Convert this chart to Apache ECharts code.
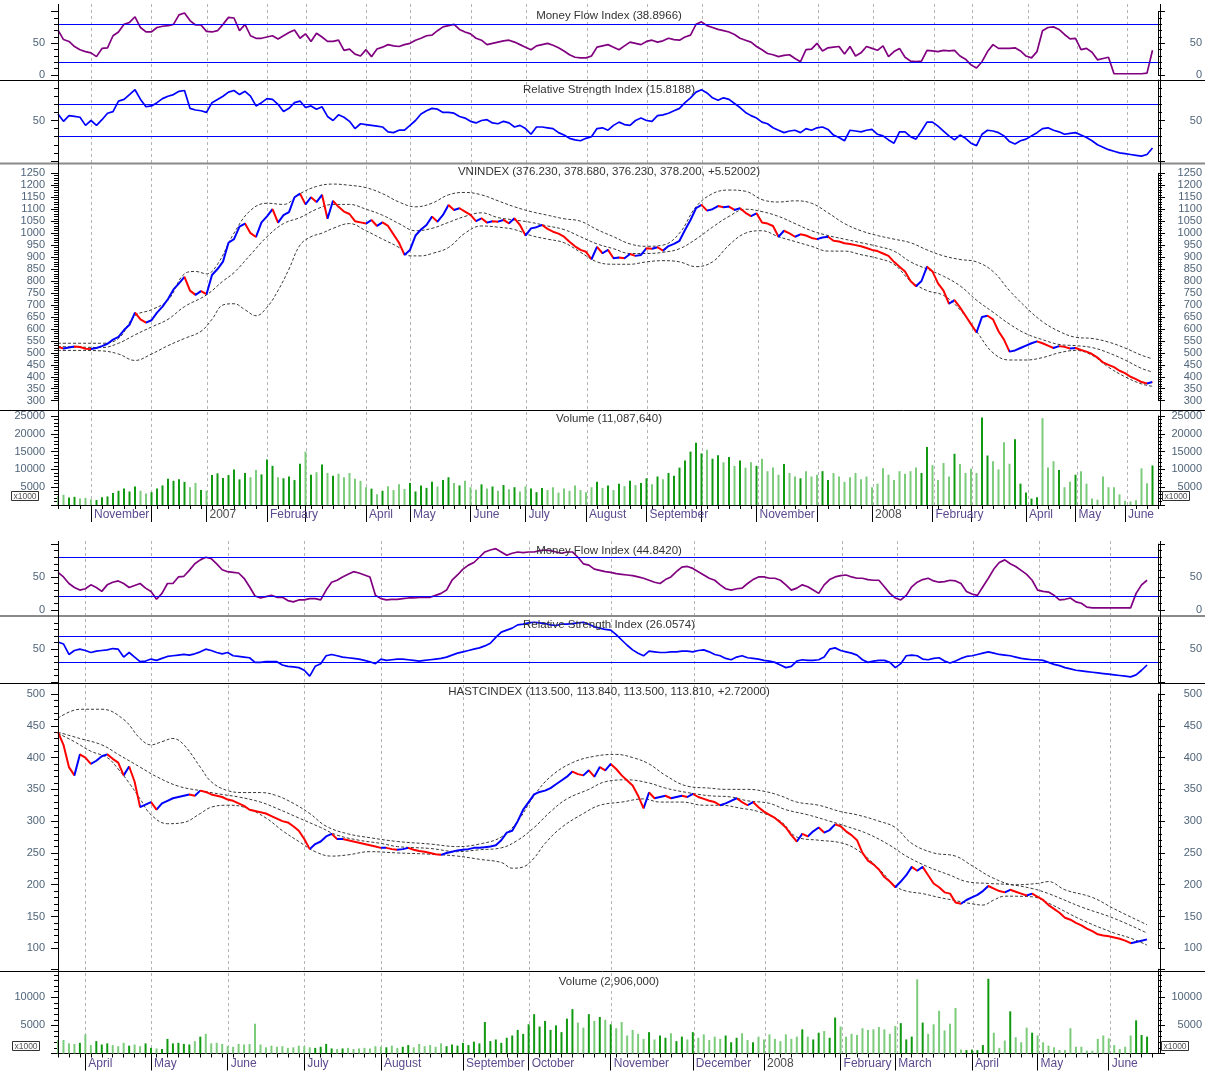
<!DOCTYPE html>
<html><head><meta charset="utf-8">
<script src="https://cdn.jsdelivr.net/npm/echarts@6/dist/echarts.min.js"></script>
<style>html,body{margin:0;padding:0;background:#fff}#c{width:1205px;height:1073px}</style>
</head><body><div id="c"></div>
<script>
// ---------------- TOP CHART (VNINDEX) ----------------
const topPrice = [525,518,522,526,524,517,516,520,528,538,
555,567,595,617,668,640,626,636,668,693,
725,765,790,817,760,742,758,745,825,850,
881,960,975,1027,1040,1000,984,1045,1070,1100,
1044,1075,1088,1150,1165,1120,1150,1130,1160,1060,
1135,1110,1090,1080,1050,1045,1040,1055,1030,1045,
1030,995,960,909,930,990,1015,1034,1069,1048,
1076,1118,1097,1104,1090,1076,1050,1062,1044,1050,
1048,1055,1041,1062,1034,990,1020,1025,1034,1018,
1006,998,985,964,945,930,922,891,943,916,
930,895,898,895,913,905,909,937,935,941,
927,946,955,968,1013,1055,1104,1118,1094,1100,
1113,1108,1111,1097,1104,1085,1071,1083,1044,1040,
1030,985,1010,999,985,995,990,980,975,982,
985,968,965,958,955,950,945,938,930,925,
915,905,880,860,840,800,778,800,860,840,
790,760,705,720,690,655,620,585,650,655,
640,590,555,505,510,520,530,540,548,540,
530,520,528,525,518,520,512,505,495,480,
460,450,440,425,415,400,390,378,372,378];
const topUpper = [[0,540],[4,540],[8,540],[11,560],[14,655],[17,680],[20,720],[23,830],[25,840],[27,830],[29,870],[32,1000],[35,1095],[38,1125],[41,1120],[44,1165],[47,1195],[50,1205],[53,1200],[56,1190],[59,1165],[62,1130],[65,1110],[68,1125],[71,1160],[74,1170],[77,1160],[80,1135],[83,1110],[86,1090],[89,1075],[92,1060],[95,1050],[98,1015],[101,985],[104,955],[107,945],[110,950],[113,1000],[116,1110],[119,1165],[122,1180],[125,1175],[128,1140],[131,1130],[134,1135],[137,1125],[140,1085],[143,1040],[146,1010],[149,990],[152,975],[155,960],[158,930],[161,905],[164,890],[167,880],[170,840],[173,760],[176,690],[179,630],[182,590],[185,565],[188,560],[191,545],[194,520],[197,490],[199,475]];
const topMiddle = [[0,526],[4,524],[8,522],[11,540],[14,575],[17,608],[20,640],[23,693],[27,742],[30,800],[32,835],[35,910],[38,985],[41,1040],[44,1065],[47,1100],[50,1120],[53,1120],[56,1100],[59,1075],[62,1040],[65,1010],[68,1020],[71,1045],[74,1070],[77,1085],[80,1065],[83,1055],[86,1045],[89,1030],[92,1015],[95,985],[98,955],[101,935],[104,915],[107,915],[110,920],[113,935],[116,975],[119,1025],[122,1070],[125,1100],[128,1090],[131,1070],[134,1040],[137,1010],[140,990],[143,975],[146,960],[149,945],[152,925],[155,880],[158,850],[161,820],[164,780],[167,720],[170,670],[173,620],[176,580],[179,555],[182,535],[185,530],[188,522],[191,500],[194,470],[197,435],[199,420]];
const topLower = [[0,510],[4,510],[8,508],[11,495],[14,468],[17,495],[20,530],[23,560],[26,590],[28,640],[30,700],[32,705],[34,680],[36,655],[38,690],[40,760],[42,850],[44,950],[46,985],[48,1000],[50,1020],[53,1040],[56,1010],[59,975],[62,940],[64,905],[66,905],[68,915],[71,940],[74,1000],[77,1030],[80,1025],[83,1015],[86,990],[89,975],[92,960],[95,920],[98,880],[101,870],[104,870],[107,880],[110,885],[113,880],[116,860],[119,880],[122,950],[125,1000],[128,1010],[131,985],[134,965],[137,945],[140,925],[143,925],[146,910],[149,895],[152,870],[155,800],[158,760],[161,740],[164,680],[167,590],[170,500],[173,470],[176,470],[179,480],[182,500],[185,510],[188,490],[191,440],[194,400],[197,370],[199,360]];
const topMFI = [71,56,53,45,40,37,35,29,42,43,
62,68,80,83,92,75,68,68,75,77,
78,80,95,98,86,79,79,69,68,70,
80,91,90,70,80,62,58,58,60,62,
57,62,67,71,58,65,53,66,60,53,
53,55,39,41,33,30,40,29,41,44,
48,46,45,48,50,55,58,62,63,70,
76,78,80,72,68,65,58,55,48,50,
52,54,55,52,48,44,40,46,48,50,
47,43,38,32,28,27,27,30,44,46,
48,44,40,46,52,50,48,53,55,52,
54,58,56,55,60,63,80,84,78,75,
72,70,68,64,58,55,52,45,40,34,
32,29,31,32,26,21,40,41,50,38,
43,44,45,33,45,30,35,45,42,39,
46,29,37,42,28,22,21,22,39,38,
37,39,38,39,30,25,16,11,21,37,
48,42,42,42,43,38,30,27,37,70,
75,76,72,64,57,58,40,42,36,24,
26,28,2,2,2,2,2,2,3,39];
const topRSI = [58,49,56,55,54,44,50,44,51,59,
61,74,76,82,88,76,67,68,72,77,
80,82,86,87,65,63,62,60,72,76,
80,85,87,82,86,80,68,72,77,76,
70,61,65,72,74,66,68,64,67,55,
50,57,54,49,40,46,45,44,43,42,
36,35,38,38,44,50,58,62,65,64,
60,60,59,55,53,49,47,50,51,47,
46,49,47,42,44,40,33,42,42,41,
40,35,32,28,26,25,28,30,40,41,
38,44,48,45,44,50,53,50,49,56,
57,59,62,65,72,78,85,88,84,78,
75,78,76,71,66,60,56,53,48,46,
41,38,35,37,38,35,40,38,41,42,
39,32,29,25,38,37,36,38,39,33,
31,26,22,36,36,30,27,37,48,48,
43,37,31,26,32,28,22,19,33,38,
37,35,31,24,21,25,27,31,35,40,
41,38,36,33,34,35,32,29,25,20,
17,14,12,10,9,8,7,6,8,16];
const topVolume = [2500,2900,2100,2300,1800,2000,1600,1400,2200,2400,
3400,4000,4600,3800,5200,4000,3200,3600,4600,5500,
7400,6800,7200,6500,5000,6200,4200,4000,8400,8900,
7600,8400,10000,7200,9000,7800,9800,8600,12800,11000,
7800,7500,8000,7000,11600,15000,8500,9200,11400,9000,
8200,8800,7800,9000,7400,6800,5000,4600,3000,4000,
5300,4200,5800,4500,6200,3800,5500,4800,6500,5200,
7000,7800,6200,5500,6800,5000,4300,5800,4600,5200,
4000,5600,4400,5000,3800,5200,4600,3600,4800,4200,
5000,3500,4600,4000,5500,4200,3600,5000,6500,4800,
5500,4200,6000,5300,6800,5600,6200,7500,5800,8000,
7200,9000,8200,10500,12500,15000,17500,14500,15500,13000,
14000,12000,13500,11000,12500,10500,12000,11000,13000,9500,
10500,8500,11500,9000,8000,7500,9500,8000,8500,9500,
7000,9000,8000,6500,7800,9000,7200,8000,5000,6000,
10300,8500,7000,9500,8800,9500,10500,9000,16300,11200,
7000,11800,8000,14400,11500,9000,10200,9000,24600,13900,
12300,10000,17600,11600,18500,6000,3500,1800,2200,24400,
10500,12300,9800,5000,6500,8500,9500,6000,1800,1500,
8000,5000,5000,3000,1200,1000,1300,10300,6100,11100];
const topMonthIdx = [6,17,27,38,45,56,64,75,85,96,107,117,127,138,148,159,166,176,185,194];
const topMonthNames = ['November','','2007','February','','April','May','June','July','August','September','','November','','2008','February','','April','May','June'];
const topTitles = ['Money Flow Index (38.8966)','Relative Strength Index (15.8188)','VNINDEX (376.230, 378.680, 376.230, 378.200, +5.52002)','Volume (11,087,640)'];

// ---------------- BOTTOM CHART (HASTCINDEX) ----------------
const botPrice = [440,420,385,372,405,400,390,395,402,405,
398,392,372,386,362,322,326,330,318,328,
332,336,338,340,342,340,348,346,342,340,
338,334,332,328,324,318,316,314,312,308,
304,300,298,292,285,272,256,264,268,276,
280,272,272,270,268,266,264,262,260,258,
258,256,255,256,258,255,253,252,250,248,
247,250,252,254,255,256,258,258,259,260,
262,270,282,285,300,318,330,342,346,348,
352,358,364,370,378,374,372,380,370,385,
380,390,382,372,364,356,340,320,345,336,
338,340,336,338,340,338,343,338,335,332,
330,325,328,332,336,330,325,330,322,315,
310,305,298,290,278,268,280,276,284,290,
282,286,295,292,284,278,270,250,238,232,
224,212,205,196,205,215,228,222,228,215,
202,196,188,186,172,170,176,180,184,190,
198,194,190,188,192,189,186,183,186,181,
176,168,162,156,148,145,140,136,131,127,
122,120,119,117,115,112,108,110,112,114];
const botUpper = [[0,462],[4,476],[8,476],[12,460],[15,430],[17,420],[19,425],[21,430],[23,420],[26,385],[28,362],[31,348],[34,345],[37,345],[40,340],[43,328],[46,312],[49,292],[53,280],[57,274],[62,268],[68,264],[73,260],[77,264],[81,275],[84,300],[87,340],[90,370],[94,392],[98,402],[102,405],[105,400],[108,390],[111,372],[115,355],[119,352],[122,350],[126,350],[129,347],[132,340],[135,330],[139,325],[143,315],[146,310],[150,300],[153,290],[156,265],[160,250],[164,245],[167,230],[171,210],[175,200],[179,202],[181,205],[184,192],[189,180],[193,162],[199,137]];
const botMiddle = [[0,440],[4,430],[8,420],[11,405],[15,385],[18,370],[22,355],[26,348],[30,342],[33,338],[37,330],[40,320],[44,305],[48,290],[51,278],[55,270],[59,265],[62,260],[68,257],[73,252],[77,255],[81,258],[84,270],[87,290],[90,315],[93,335],[97,350],[100,362],[104,365],[108,360],[111,352],[115,345],[119,340],[123,338],[126,332],[130,328],[133,318],[137,310],[141,300],[144,292],[148,280],[152,262],[155,245],[159,228],[163,215],[166,205],[170,202],[174,200],[178,194],[181,186],[187,165],[193,147],[199,124]];
const botLower = [[0,438],[3,425],[6,410],[9,400],[11,382],[13,360],[15,335],[17,310],[20,296],[23,298],[26,312],[28,322],[31,325],[34,322],[38,305],[41,285],[44,268],[47,252],[50,245],[53,247],[57,252],[62,250],[68,248],[73,245],[77,240],[81,235],[83,226],[85,228],[87,242],[89,265],[92,290],[96,312],[99,325],[103,330],[107,335],[110,330],[114,330],[118,325],[121,325],[125,320],[128,315],[132,300],[135,275],[139,270],[143,266],[146,255],[150,225],[153,198],[155,190],[158,186],[161,180],[164,175],[167,170],[169,168],[171,176],[173,182],[178,181],[181,171],[187,145],[193,124],[196,116],[199,105]];
const botMFI = [57,50,40,34,30,32,38,34,28,38,
42,44,40,34,37,40,33,28,16,25,
40,40,50,51,60,70,76,80,78,70,
61,58,57,56,48,35,21,18,20,22,
19,19,14,12,15,15,17,17,15,30,
42,45,50,54,58,56,53,50,22,17,
15,16,16,17,18,18,19,19,19,22,
25,30,45,53,62,68,72,80,88,91,
93,88,83,86,88,87,88,88,90,91,
90,88,86,88,88,80,70,68,62,60,
58,57,55,54,53,52,50,48,45,42,
40,46,50,58,65,66,63,58,53,48,
45,38,32,30,32,33,40,46,50,50,
48,48,45,38,30,33,38,35,30,25,
38,46,50,52,53,50,48,48,46,45,
45,35,25,18,15,22,35,42,46,48,
44,42,43,45,44,40,28,24,22,35,
48,62,72,76,70,66,60,54,45,30,
28,27,22,15,16,18,12,10,4,3,
3,3,3,3,3,3,3,25,38,45];
const botRSI = [61,58,42,48,50,48,45,47,48,49,
51,50,38,45,38,31,32,35,33,36,
39,40,41,42,41,43,46,50,48,45,
43,45,40,39,38,37,30,30,31,31,
31,26,24,23,22,18,9,24,28,40,
42,40,38,37,36,35,33,31,28,35,
33,34,35,35,34,33,32,33,34,35,
36,38,41,44,46,48,50,52,55,59,
68,76,79,82,87,88,90,91,90,89,
87,86,88,88,89,90,91,88,84,82,
80,79,72,64,56,49,44,40,47,46,
45,45,46,46,47,47,46,48,49,46,
42,40,36,34,38,40,37,36,35,33,
32,30,26,22,24,32,34,33,33,34,
38,50,52,48,46,44,41,34,30,32,
33,33,30,22,28,40,41,40,35,34,
36,37,32,29,32,36,39,40,42,44,
46,44,42,41,40,38,36,35,34,34,
33,30,27,25,22,20,18,17,16,15,
14,13,12,11,10,9,8,11,18,26];
const botVolume = [2400,2400,1800,1700,1900,3400,1500,2200,1600,1800,
1500,1300,1900,1400,1600,1300,1800,1000,900,800,
2600,1800,1900,1700,1600,2200,3000,3500,1800,1900,
1700,1300,1200,1700,1600,1700,5300,1600,1100,1400,
1200,1300,1000,1100,1400,1300,1100,1000,1200,1700,
900,800,900,1000,800,900,1000,900,1300,1200,
1100,1400,1000,1200,1500,1100,1700,1300,1500,1200,
1800,1300,1600,1400,1900,1500,2100,1800,5600,2200,
2500,1900,2800,3200,4200,3500,5200,7000,4800,5800,
4200,5000,3800,6200,7900,5500,4600,7000,5800,6500,
6000,5200,4500,5600,3200,4200,3500,2600,3800,2500,
3200,2800,3600,2200,3000,2500,3800,2800,3400,2400,
3000,2600,3200,2000,2800,3600,2400,2000,3000,2500,
3400,2600,2200,3400,2600,3000,4300,3000,2500,3700,
4000,2800,6400,4800,3000,3500,3300,4500,4200,4300,
4700,4300,3500,4900,5400,2500,3000,13200,5500,3500,
5200,7600,4100,5300,8100,700,600,700,600,1500,
13300,3700,1000,2300,7500,2900,2000,4600,3700,3200,
2000,1400,1100,600,600,4500,1200,1200,500,500,
2600,3200,2700,1500,800,1200,3200,5900,3300,3000];
const botMonthIdx = [5,17,31,45,59,74,86,101,116,129,143,153,167,179,192];
const botMonthNames = ['April','May','June','July','August','September','October','November','December','2008','February','March','April','May','June'];
const botTitles = ['Money Flow Index (44.8420)','Relative Strength Index (26.0574)','HASTCINDEX (113.500, 113.840, 113.500, 113.810, +2.72000)','Volume (2,906,000)'];

// ---------------- BUILD ----------------
const BLUE = '#0000ff', RED = '#ff0000', DG = '#119a11', LG = '#7ccc7c';
const FONT = '"Liberation Sans", Arial, sans-serif';
const LABEL_COLOR = '#4f6479';
const L = 58, R = 1160;

const option = {animation:false, backgroundColor:'#fff', grid:[], xAxis:[], yAxis:[], series:[], visualMap:[], graphic:[]};

function addGrid(top, height){ option.grid.push({left:L, right:1205-R, top:top, height:height}); return option.grid.length-1; }
function addX(g, cats, extra){ option.xAxis.push(Object.assign({type:'category', gridIndex:g, data:cats, boundaryGap:false, show:false}, extra||{})); return option.xAxis.length-1; }
function shownSet(arr){ return v => (arr.indexOf(v) >= 0 ? String(v) : ''); }
function addYPair(g, min, max, interval, shown){
  const base = {type:'value', gridIndex:g, min:min, max:max, interval:interval, splitLine:{show:false},
    axisLine:{show:true, lineStyle:{color:'#000', width:1}},
    axisTick:{show:true, length:7, lineStyle:{color:'#000'}},
    minorTick:{show:true, splitNumber:5, length:4, lineStyle:{color:'#000'}}};
  const fmt = shownSet(shown);
  option.yAxis.push(Object.assign({}, base, {position:'left', axisLabel:{color:LABEL_COLOR, fontSize:11, fontFamily:FONT, margin:13, formatter:fmt}}));
  const li = option.yAxis.length-1;
  option.yAxis.push(Object.assign({}, base, {position:'right', axisLabel:{color:LABEL_COLOR, fontSize:11, fontFamily:FONT, margin:44, align:'right', formatter:fmt}}));
  return li;
}
function dirPieces(p){
  const out = []; let start = 0; let up = p[1] >= p[0];
  for (let i = 1; i < p.length-1; i++){
    const u = p[i+1] >= p[i];
    if (u !== up){ out.push({start:start, end:i, up:up}); start = i; up = u; }
  }
  out.push({start:start, end:p.length-1, up:up});
  return out.map((s, k) => k === 0 ? {gte:s.start, lte:s.end, color:s.up?BLUE:RED} : {gt:s.start, lte:s.end, color:s.up?BLUE:RED});
}
function hline(x1, y, x2, color, w){ option.graphic.push({type:'line', silent:true, z:50, shape:{x1:x1, y1:y, x2:x2, y2:y}, style:{stroke:color, lineWidth:w}}); }
function vline(x, y1, y2){ option.graphic.push({type:'line', silent:true, z:50, shape:{x1:x, y1:y1, x2:x, y2:y2}, style:{stroke:'#000', lineWidth:1}}); }
function title(txt, y){ option.graphic.push({type:'text', silent:true, z:60, x:(L+R)/2, y:y, style:{text:txt, font:'11.5px '+FONT, fill:'#333', textAlign:'center', textVerticalAlign:'middle'}}); }
function kbox(x, y){
  option.graphic.push({type:'rect', silent:true, z:50, shape:{x:x, y:y, width:27, height:9}, style:{fill:'#fff', stroke:'#333', lineWidth:1}});
  option.graphic.push({type:'text', silent:true, z:51, x:x+13.5, y:y+4.8, style:{text:'x1000', font:'8.5px '+FONT, fill:'#555', textAlign:'center', textVerticalAlign:'middle'}});
}

function buildChart(c){
  const cats = Array.from({length:c.n}, (_, i) => 'd'+i);
  const labelMap = {}; c.monthIdx.forEach((ix, k) => { labelMap[ix] = c.monthNames[k]; });
  const isMonth = (i) => c.monthIdx.indexOf(i) >= 0;
  // background grid with dashed month lines
  const gb = addGrid(c.bg[0], c.bg[1]);
  addX(gb, cats, {show:true, axisLine:{show:false}, axisTick:{show:false}, axisLabel:{show:false},
    splitLine:{show:true, interval:(i) => isMonth(i), lineStyle:{color:'#b4b4b4', width:1, type:[3,3]}}});
  option.yAxis.push({type:'value', gridIndex:gb, show:false, min:0, max:1});
  // MFI
  const g1 = addGrid(c.mfi[0], c.mfi[1]);
  const x1 = addX(g1, cats); const y1 = addYPair(g1, 0, 100, 50, [0,50]);
  option.series.push({type:'line', xAxisIndex:x1, yAxisIndex:y1, data:c.mfi_d, symbol:'none', lineStyle:{color:'#800080', width:1.7}, z:3,
    markLine:{silent:true, symbol:'none', animation:false, label:{show:false}, lineStyle:{color:BLUE, width:1, type:'solid'}, data:[{yAxis:80},{yAxis:20}]}});
  // RSI
  const g2 = addGrid(c.rsi[0], c.rsi[1]);
  const x2 = addX(g2, cats); const y2 = addYPair(g2, 0, 100, 50, [50]);
  option.series.push({type:'line', xAxisIndex:x2, yAxisIndex:y2, data:c.rsi_d, symbol:'none', lineStyle:{color:BLUE, width:1.7}, z:3,
    markLine:{silent:true, symbol:'none', animation:false, label:{show:false}, lineStyle:{color:BLUE, width:1, type:'solid'}, data:[{yAxis:70},{yAxis:30}]}});
  // Price
  const g3 = addGrid(c.price[0], c.price[1]);
  const x3 = addX(g3, cats);
  const pShown = []; for (let v = c.price[2]; v <= c.price[3]; v += 50) pShown.push(v);
  const y3 = addYPair(g3, c.price[2], c.price[3], 50, pShown);
  [c.upper, c.middle, c.lower].forEach(b => {
    option.series.push({type:'line', xAxisIndex:x3, yAxisIndex:y3, data:b, symbol:'none', smooth:0.4, lineStyle:{color:'#3a3a3a', width:1, type:[3,2]}, z:2});
  });
  option.series.push({type:'line', xAxisIndex:x3, yAxisIndex:y3, data:c.price_d, symbol:'none', lineStyle:{width:2}, z:4});
  option.visualMap.push({type:'piecewise', show:false, dimension:0, seriesIndex:option.series.length-1, pieces:dirPieces(c.price_d), outOfRange:{color:RED}});
  // Volume
  const g4 = addGrid(c.vol[0], c.vol[1]);
  const x4 = addX(g4, cats, {show:true,
    axisLine:{show:true, lineStyle:{color:'#000', width:1}},
    axisTick:{show:true, interval:(i) => isMonth(i), length:17, lineStyle:{color:'#000'}},
    axisLabel:{show:true, interval:(i) => !!labelMap[i], margin:4, align:'left', padding:[0,0,0,3],
      formatter:(v, i) => { const n = labelMap[i] || ''; if (!n) return ''; return /^\d+$/.test(n) ? '{y|'+n+'}' : '{m|'+n+'}'; },
      rich:{y:{color:'#4a4a4a', fontSize:12, fontFamily:FONT}, m:{color:'#5b4a8e', fontSize:12, fontFamily:FONT}}},
    splitLine:{show:false}});
  addX(g4, cats, {show:true, position:'bottom', axisLine:{show:false}, axisLabel:{show:false},
    axisTick:{show:true, interval:1, length:4, lineStyle:{color:'#000'}}, splitLine:{show:false}});
  const y4 = addYPair(g4, 0, c.vol[2], 5000, c.volShown);
  const pr = c.price_d;
  option.series.push({type:'bar', xAxisIndex:x4, yAxisIndex:y4, data:c.vol_d, barWidth:2, z:3,
    itemStyle:{color:(p) => (p.dataIndex > 0 && pr[p.dataIndex] >= pr[p.dataIndex-1]) ? DG : LG}});
  // graphics
  c.seps.forEach(s => hline(0, s[0], 1205, s[1], s[2]));
  vline(L+0.5, c.bg[0], c.bg[0]+c.bg[1]); vline(R+0.5, c.bg[0], c.bg[0]+c.bg[1]);
  c.titles.forEach((t, k) => title(t, c.titleY[k]));
  kbox(c.kbox[0], c.kbox[2]); kbox(c.kbox[1], c.kbox[2]);
}

buildChart({n:201, bg:[4,501], mfi:[11.7,63.3], rsi:[80,81], price:[173.3,227.4,300,1250], vol:[416,89,25000],
  volShown:[5000,10000,15000,20000,25000],
  mfi_d:topMFI, rsi_d:topRSI, price_d:topPrice, upper:topUpper, middle:topMiddle, lower:topLower, vol_d:topVolume,
  monthIdx:topMonthIdx, monthNames:topMonthNames, titles:topTitles, titleY:[16,90,172,419],
  seps:[[80.5,'#000',1],[163.5,'#8a8a8a',2],[410.5,'#000',1]], kbox:[11.5,1162.5,491.5]});
buildChart({n:202, bg:[541,513], mfi:[544.1,65.7], rsi:[616.3,65.8], price:[694,254.3,100,500], vol:[969.2,84.3,15000],
  volShown:[5000,10000],
  mfi_d:botMFI, rsi_d:botRSI, price_d:botPrice, upper:botUpper, middle:botMiddle, lower:botLower, vol_d:botVolume,
  monthIdx:botMonthIdx, monthNames:botMonthNames, titles:botTitles, titleY:[551,625,692,982],
  seps:[[616,'#8a8a8a',2],[683.5,'#000',1],[971.5,'#000',1]], kbox:[12.5,1161.5,1041.5]});

const chart = echarts.init(document.getElementById('c'), null, {renderer:'canvas', width:1205, height:1073});
chart.setOption(option);
</script></body></html>
